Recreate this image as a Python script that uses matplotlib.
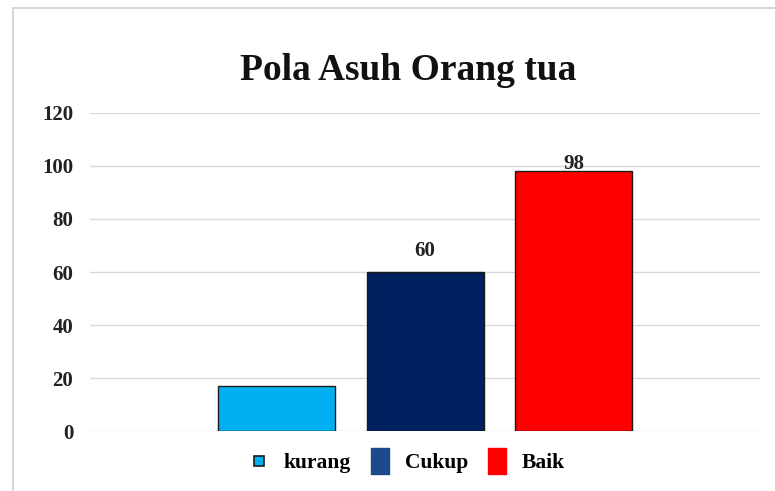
import matplotlib.pyplot as plt
from matplotlib.patches import Rectangle
from matplotlib.lines import Line2D

categories = ['kurang', 'Cukup', 'Baik']
values = [17, 60, 98]
colors = ['#00B0F0', '#002060', '#FF0000']
shown_labels = [None, '60', '98']
label_offsets = [0, 4.0, -1.2]
yticks = [0, 20, 40, 60, 80, 100, 120]

plt.rcParams['font.family'] = ['Liberation Serif', 'DejaVu Serif']
plt.rcParams['font.weight'] = 'bold'

fig = plt.figure(figsize=(7.75, 4.91), dpi=100)
ax = fig.add_axes([0.116, 0.122, 0.865, 0.648])

# outer frame of the chart area
fig.patches.append(Rectangle((0.017, -0.02), 1.0, 1.003, transform=fig.transFigure,
                             fill=False, edgecolor='#d0d0d0', linewidth=1.2))

positions = [-1, 0, 1]
for x, v, c, name in zip(positions, values, colors, categories):
    ax.bar(x, v, width=0.79, color=c, edgecolor='#1a1a1a', linewidth=1.0,
           label=name, zorder=3)

for x, v, lab, off in zip(positions, values, shown_labels, label_offsets):
    if lab:
        ax.text(x, v + off, lab, ha='center', va='bottom', fontsize=15,
                fontweight='bold', color='#222222', zorder=4)

ax.set_xlim(-2.26, 2.26)
ax.set_ylim(0, 120)
ax.set_yticks(yticks)
ax.set_xticks([])
ax.grid(axis='y', color='#d9d9d9', linewidth=1.0, zorder=0)
for s in ax.spines.values():
    s.set_visible(False)
ax.tick_params(axis='y', length=0, pad=12, labelsize=15, labelcolor='#222222')
for t in ax.get_yticklabels():
    t.set_fontweight('bold')

fig.text(0.527, 0.857, 'Pola Asuh Orang tua', ha='center', va='center',
         fontsize=27, fontweight='bold', color='#111111')

# legend keys: small square for the first, tall blocks for the others
tall = [(-0.35, -0.5), (0.35, -0.5), (0.35, 0.5), (-0.35, 0.5), (-0.35, -0.5)]
handles = [
    Line2D([], [], linestyle='none', marker='s', markersize=6.5,
           markerfacecolor=colors[0], markeredgecolor='#1a1a1a', markeredgewidth=1.2),
    Line2D([], [], linestyle='none', marker=tall, markersize=19,
           markerfacecolor='#1F4A8A', markeredgecolor='#1F4A8A'),
    Line2D([], [], linestyle='none', marker=tall, markersize=19,
           markerfacecolor=colors[2], markeredgecolor=colors[2]),
]
fig.legend(handles, categories, loc='center', bbox_to_anchor=(0.525, 0.057), ncol=3,
           frameon=False, handlelength=0.9, columnspacing=0.9,
           handletextpad=0.7, prop={'weight': 'bold', 'size': 15.5})

fig.savefig('out.png', dpi=100)
